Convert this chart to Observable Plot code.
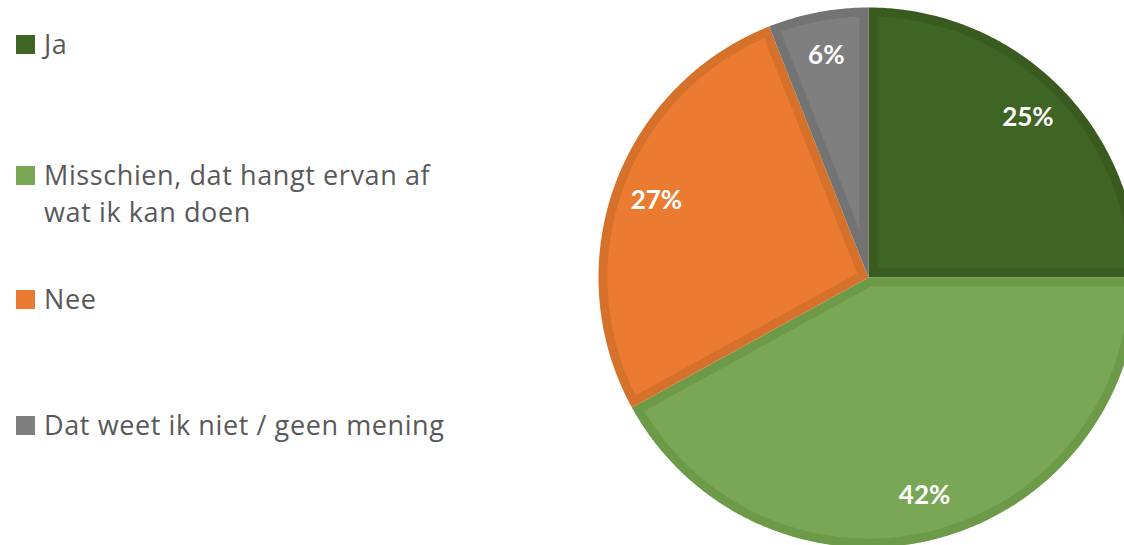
<!DOCTYPE html>
<html>
<head>
<meta charset="utf-8">
<script src="https://cdn.jsdelivr.net/npm/d3@7"></script>
<script src="https://cdn.jsdelivr.net/npm/@observablehq/plot@0.6"></script>
<style>
  html, body { margin: 0; padding: 0; background: #fff; width: 1124px; height: 545px; overflow: hidden; }
  #page { position: relative; width: 1124px; height: 545px; overflow: hidden; }
  .lg-item { position: absolute; left: 16px; font-family: "Open Sans", sans-serif; font-size: 27px; letter-spacing: 0.6px; line-height: 37px; color: #595959; }
  .lg-sw { position: absolute; left: 0; width: 19px; height: 19px; }
  .lg-tx { position: absolute; left: 28px; width: 405px; white-space: normal; }
  #chart { position: absolute; left: 588px; top: 0; width: 560px; height: 545px; }
  #chart svg { max-width: none !important; }
</style>
</head>
<body>
<div id="page"><div id="legend"></div><div id="chart"></div></div>
<script>
// ---- data ----
const categories = ["Ja", "Misschien, dat hangt ervan af wat ik kan doen", "Nee", "Dat weet ik niet / geen mening"];
const values = [25, 42, 27, 6];

// ---- styles ----
const fills   = ["#3F6524", "#7AA755", "#EB7B30", "#7F7F7F"];
const borders = ["#395B20", "#6D9A49", "#D6712B", "#737373"];
const legendBaselines = [54, 185, 309, 435];
const baseOffset = 29.1;

// ---- legend ----
const legend = document.getElementById("legend");
categories.forEach((c, i) => {
  const item = document.createElement("div");
  item.className = "lg-item";
  item.style.top = (legendBaselines[i] - baseOffset) + "px";
  const sw = document.createElement("div");
  sw.className = "lg-sw";
  sw.style.background = fills[i];
  sw.style.top = (baseOffset - 19) + "px";
  const tx = document.createElement("div");
  tx.className = "lg-tx";
  tx.textContent = c;
  item.appendChild(sw);
  item.appendChild(tx);
  legend.appendChild(item);
});

// ---- pie geometry (unit circle, angles clockwise from 12 o'clock) ----
const R = 270;
const inset = 9 / R;
const total = d3.sum(values);
let acc = 0;
const slices = values.map((v, i) => {
  const a0 = acc / total * 2 * Math.PI;
  acc += v;
  const a1 = acc / total * 2 * Math.PI;
  return {i, v, a0, a1};
});
const pt = (r, a) => ({x: r * Math.sin(a), y: r * Math.cos(a)});
function wedge(s, d) {
  const pts = [];
  const h = (s.a1 - s.a0) / 2;
  const mid = s.a0 + h;
  const apexR = d > 0 ? d / Math.sin(h) : 0;
  pts.push(pt(apexR, mid));
  const r = 1 - d;
  const delta = d > 0 ? Math.asin(d / r) : 0;
  const b0 = s.a0 + delta, b1 = s.a1 - delta;
  const n = Math.max(8, Math.ceil((b1 - b0) / (Math.PI / 360)));
  for (let k = 0; k <= n; k++) pts.push(pt(r, b0 + (b1 - b0) * k / n));
  pts.push(pt(apexR, mid));
  return pts;
}

const marks = [];
slices.forEach(s => {
  marks.push(Plot.line(wedge(s, 0), {x: "x", y: "y", fill: borders[s.i], stroke: "none"}));
  marks.push(Plot.line(wedge(s, inset), {x: "x", y: "y", fill: fills[s.i], stroke: "none"}));
});
const labelR = 0.835;
const labels = slices.map(s => {
  const m = (s.a0 + s.a1) / 2;
  return {...pt(labelR, m), text: s.v + "%"};
});
marks.push(Plot.text(labels, {x: "x", y: "y", text: "text", fill: "white", fontSize: 26, fontWeight: "bold", fontFamily: "Lato, 'Open Sans', sans-serif", textAnchor: "middle", lineAnchor: "middle"}));

const chart = Plot.plot({
  width: 560,
  height: 545,
  margin: 0,
  style: {overflow: "visible", background: "transparent", maxWidth: "none"},
  x: {domain: [-1, 1], range: [10, 550], axis: null},
  y: {domain: [-1, 1], range: [547, 7], axis: null},
  marks
});
document.getElementById("chart").appendChild(chart);
</script>
</body>
</html>
